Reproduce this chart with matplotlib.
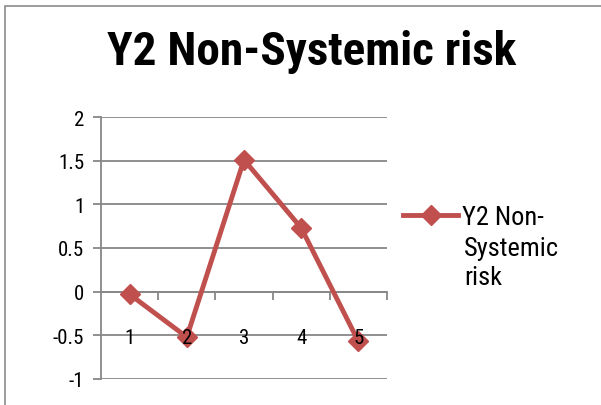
## Line chart of Y2 non-systemic risk, Excel style

import matplotlib.pyplot as plt
from matplotlib.patches import Rectangle

# Data
periods = [1, 2, 3, 4, 5]
risk = [-0.03, -0.52, 1.51, 0.73, -0.57]
y_ticks = [-1, -0.5, 0, 0.5, 1, 1.5, 2]
y_labels = ['-1', '-0.5', '0', '0.5', '1', '1.5', '2']

plt.rcParams['font.family'] = ['Liberation Sans Narrow', 'Roboto Condensed', 'DejaVu Sans']
plt.rcParams['font.stretch'] = 'condensed'

fig = plt.figure(figsize=(6.01, 4.06), dpi=100)
W, H = 601, 406

# Chart area border (only left and top visible in the crop)
fig.patches.append(Rectangle((5 / W, -0.1), 1.2, (406 - 7) / H + 0.1,
                             transform=fig.transFigure, fill=False,
                             edgecolor='#8c8c8c', linewidth=1.2))

ax = fig.add_axes([101 / W, (H - 380) / H, 286 / W, 262 / H])
grid_c = '#878787'

ax.plot(periods, risk, color='#C0504D', linewidth=3.5, marker='D',
        markersize=10, label='Y2 Non-', clip_on=False, zorder=3)

ax.set_xlim(0.5, 5.5)
ax.set_ylim(-1, 2)
ax.set_yticks(y_ticks)
ax.set_yticklabels(y_labels)
for y in y_ticks:
    ax.axhline(y, color=grid_c, linewidth=1.3, zorder=1)

for side in ['top', 'right', 'bottom']:
    ax.spines[side].set_visible(False)
ax.spines['left'].set_color(grid_c)
ax.spines['left'].set_linewidth(1.3)

# Category axis crosses at zero
ax.spines['bottom'].set_visible(True)
ax.spines['bottom'].set_position(('data', 0))
ax.spines['bottom'].set_color(grid_c)
ax.spines['bottom'].set_linewidth(1.3)
ax.set_xticks(periods)
ax.set_xticks([1.5, 2.5, 3.5, 4.5, 5.5], minor=True)
ax.tick_params(axis='x', which='major', length=0, pad=26, labelsize=15)
ax.tick_params(axis='x', which='minor', length=6, width=1.3, color=grid_c,
               direction='out')
ax.tick_params(axis='y', length=6, width=1.3, color=grid_c, pad=6,
               labelsize=15)
ax.xaxis.set_zorder(4)  # category labels sit on top of the line

fig.text(312 / W, 1 - 52 / H, 'Y2 Non-Systemic risk', ha='center',
         va='center', fontsize=34, fontweight='bold')

leg = fig.legend(loc='center left', bbox_to_anchor=(403 / W, 1 - 218 / H),
                 frameon=False, fontsize=19, handlelength=2.1,
                 handletextpad=0.15, borderpad=0, borderaxespad=0)
fig.text(464 / W, 1 - 237 / H, 'Systemic\nrisk', ha='left', va='top',
         fontsize=19, linespacing=1.25)

fig.savefig('out.png', dpi=100)
